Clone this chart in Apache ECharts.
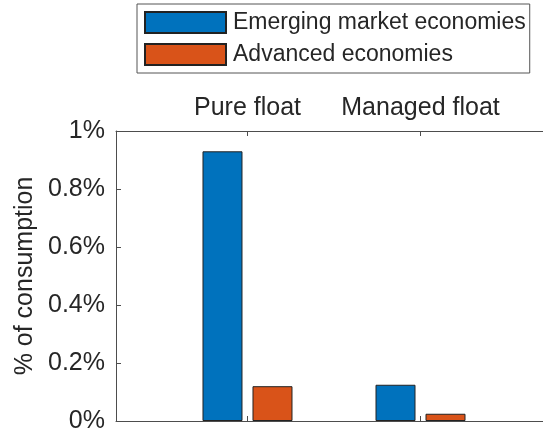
<!DOCTYPE html>
<html>
<head>
<meta charset="utf-8">
<script src="https://cdn.jsdelivr.net/npm/echarts@6/dist/echarts.min.js"></script>
<style>
  html, body { margin: 0; padding: 0; background: #fff; }
  #chart { width: 543px; height: 437px; }
</style>
</head>
<body>
<div id="chart"></div>
<script>
// regimes sit at x = 1 and x = 2
const regimes = ["Pure float", "Managed float"];
const regimePos = [1, 2];
const emerging = [0.93, 0.125];
const advanced = [0.12, 0.025];
const yTicks = [0, 0.2, 0.4, 0.6, 0.8, 1];

const font = "Liberation Sans, Arial, sans-serif";
const axisCol = "#4d4d4d";
const textCol = "#262626";

const chart = echarts.init(document.getElementById("chart"));

function pairs(vals) {
  return vals.map((v, i) => [regimePos[i], v]);
}

// the axes box runs past the right edge of the picture
const xBase = {
  type: "value",
  min: 0.24,
  max: 2.708,
  splitLine: { show: false },
  axisLine: { show: true, lineStyle: { color: axisCol, width: 1 } },
  axisTick: {
    show: true,
    inside: true,
    length: 5,
    customValues: regimePos,
    lineStyle: { color: axisCol },
  },
};

chart.setOption({
  animation: false,
  textStyle: { fontFamily: font },
  legend: {
    orient: "vertical",
    left: 137,
    top: 4,
    padding: [7, 4, 7, 7],
    icon: "rect",
    itemWidth: 81,
    itemHeight: 21,
    itemGap: 9,
    borderColor: "#555",
    borderWidth: 1,
    backgroundColor: "#fff",
    textStyle: { fontSize: 23, color: textCol, fontFamily: font, padding: [0, 0, 0, 2] },
    data: ["Emerging market economies", "Advanced economies"],
  },
  grid: { left: 116, right: 0, top: 131, bottom: 16 },
  xAxis: [
    Object.assign({}, xBase, {
      position: "bottom",
      axisLabel: { show: false },
    }),
    Object.assign({}, xBase, {
      position: "top",
      axisLabel: {
        show: true,
        customValues: regimePos,
        margin: 10,
        fontSize: 25,
        color: textCol,
        fontFamily: font,
        formatter: (v) => regimes[regimePos.indexOf(Math.round(v))] || "",
      },
    }),
  ],
  yAxis: {
    type: "value",
    min: 0,
    max: 1,
    interval: 0.2,
    name: "% of consumption",
    nameLocation: "middle",
    nameGap: 77,
    nameTextStyle: { fontSize: 25, color: textCol, fontFamily: font },
    splitLine: { show: false },
    axisLine: { show: true, lineStyle: { color: axisCol, width: 1 } },
    axisTick: { show: true, inside: true, length: 5, lineStyle: { color: axisCol } },
    axisLabel: {
      margin: 11,
      fontSize: 25,
      color: textCol,
      fontFamily: font,
      formatter: (v) => {
        const t = yTicks.find((k) => Math.abs(k - v) < 1e-9);
        return (t === undefined ? v : t) + "%";
      },
    },
  },
  series: [
    {
      name: "Emerging market economies",
      type: "bar",
      xAxisIndex: 0,
      barWidth: 40,
      barGap: "25%",
      data: pairs(emerging),
      itemStyle: { color: "#0072BD", borderColor: "#222", borderWidth: 1 },
    },
    {
      name: "Advanced economies",
      type: "bar",
      xAxisIndex: 0,
      barWidth: 40,
      barGap: "25%",
      data: pairs(advanced),
      itemStyle: { color: "#D95319", borderColor: "#222", borderWidth: 1 },
    },
  ],
});
</script>
</body>
</html>
